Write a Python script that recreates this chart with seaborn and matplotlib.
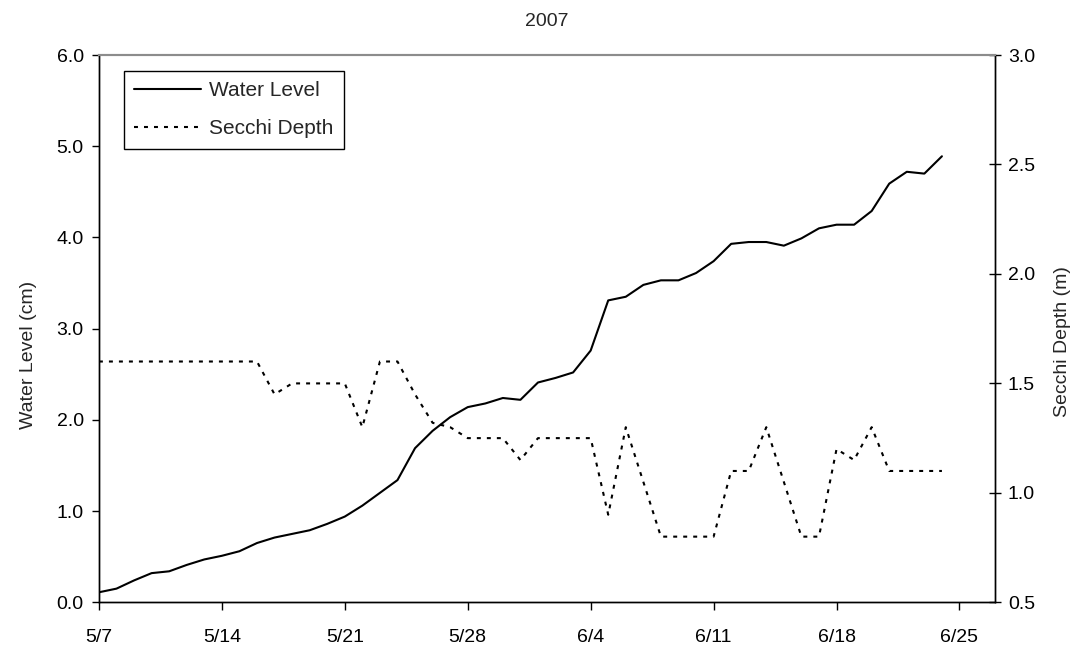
import matplotlib
matplotlib.use("Agg")
import numpy as np
import pandas as pd
import seaborn as sns
import matplotlib.pyplot as plt
import matplotlib.dates as mdates
from matplotlib.ticker import FixedLocator, FuncFormatter

# Daily observations, 7 May - 24 June 2007
start_date = "2007-05-07"
end_date = "2007-06-27"
water_level = [0.11, 0.15, 0.24, 0.32, 0.34, 0.41, 0.47, 0.51, 0.56, 0.65,
               0.71, 0.75, 0.79, 0.86, 0.94, 1.06, 1.20, 1.34, 1.69, 1.88,
               2.03, 2.14, 2.18, 2.24, 2.22, 2.41, 2.46, 2.52, 2.76, 3.31,
               3.35, 3.48, 3.53, 3.53, 3.61, 3.74, 3.93, 3.95, 3.95, 3.91,
               3.99, 4.10, 4.14, 4.14, 4.29, 4.59, 4.72, 4.70, 4.89]
secchi_depth = [1.6, 1.6, 1.6, 1.6, 1.6, 1.6, 1.6, 1.6, 1.6, 1.6,
                1.45, 1.5, 1.5, 1.5, 1.5, 1.3, 1.6, 1.6, 1.45, 1.32,
                1.3, 1.25, 1.25, 1.25, 1.15, 1.25, 1.25, 1.25, 1.25, 0.9,
                1.3, 1.05, 0.8, 0.8, 0.8, 0.8, 1.1, 1.1, 1.3, 1.05,
                0.8, 0.8, 1.2, 1.15, 1.3, 1.1, 1.1, 1.1, 1.1]
left_ticks = [0.0, 1.0, 2.0, 3.0, 4.0, 5.0, 6.0]
right_ticks = [0.5, 1.0, 1.5, 2.0, 2.5, 3.0]

dates = pd.date_range(start_date, periods=len(water_level), freq="D")
df = pd.DataFrame({"date": dates, "water_level": water_level,
                   "secchi_depth": secchi_depth})

sns.set_style("ticks")
plt.rcParams["font.family"] = ["Liberation Sans", "DejaVu Sans"]
plt.rcParams["font.size"] = 14

fig, ax = plt.subplots(figsize=(10.87, 6.52), dpi=100)
fig.subplots_adjust(left=0.091, right=0.915, top=0.9156, bottom=0.0762)
ax2 = ax.twinx()

sns.lineplot(data=df, x="date", y="water_level", ax=ax, color="black",
             linewidth=1.5, legend=False)
sns.lineplot(data=df, x="date", y="secchi_depth", ax=ax2, color="black",
             linewidth=1.5, linestyle=(0, (1.9, 2.9)), legend=False)

# axes ranges and ticks
ax.set_xlim(pd.Timestamp(start_date), pd.Timestamp(end_date))
ax.set_ylim(0, 6)
ax2.set_ylim(0.5, 3.0)
week_ticks = pd.date_range(start_date, "2007-06-25", freq="7D")
ax.xaxis.set_major_locator(FixedLocator(mdates.date2num(week_ticks)))
ax.xaxis.set_major_formatter(FuncFormatter(
    lambda v, p: f"{mdates.num2date(v).month}/{mdates.num2date(v).day}"))
ax.yaxis.set_major_locator(FixedLocator(left_ticks))
ax.yaxis.set_major_formatter(FuncFormatter(lambda v, p: f"{v:.1f}"))
ax2.yaxis.set_major_locator(FixedLocator(right_ticks))
ax2.yaxis.set_major_formatter(FuncFormatter(lambda v, p: f"{v:.1f}"))

ax.tick_params(axis="x", direction="out", length=6, width=1, pad=13,
               labelsize=14, colors="black")
ax.tick_params(axis="y", direction="out", length=5, width=1, pad=6,
               labelsize=14, colors="black")
ax2.tick_params(axis="y", direction="inout", length=9, width=1, pad=5,
                labelsize=14, colors="black")

for a in (ax, ax2):
    for side in ("left", "right", "bottom"):
        a.spines[side].set_visible(True)
        a.spines[side].set_color("black")
        a.spines[side].set_linewidth(1.0)
    a.spines["top"].set_visible(True)
    a.spines["top"].set_color("#8c8c8c")
    a.spines["top"].set_linewidth(1.5)

ax.set_xlabel("")
ax.set_ylabel("Water Level (cm)", fontsize=14)
ax2.set_ylabel("Secchi Depth (m)", fontsize=14)
ax.yaxis.set_label_coords(-0.069, 0.452)
ax2.yaxis.set_label_coords(1.066, 0.477)
ax.set_title("2007", fontsize=14, pad=21)

handles = [ax.get_lines()[0], ax2.get_lines()[0]]
leg = ax2.legend(handles, ["Water Level", "Secchi Depth"],
                 loc="upper left", bbox_to_anchor=(0.028, 0.971),
                 borderaxespad=0, fancybox=False, framealpha=1,
                 edgecolor="black", handlelength=3.2, handletextpad=0.4,
                 labelspacing=0.92, borderpad=0.5, fontsize=15)
leg.get_frame().set_linewidth(1.0)

fig.savefig("out.png", dpi=100)
